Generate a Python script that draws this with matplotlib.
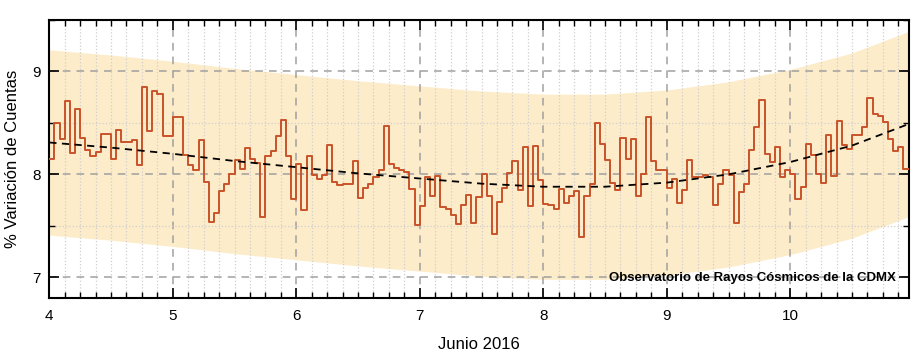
import numpy as np
import matplotlib.pyplot as plt
from matplotlib.ticker import MultipleLocator

plt.rcParams['font.family'] = ['Liberation Sans', 'DejaVu Sans']

# hourly counts variation (%), June 4 00h .. June 10 23h
variation = [
    8.15, 8.50, 8.34, 8.71, 8.21, 8.64, 8.35, 8.24, 8.18, 8.22, 8.39, 8.39,
    8.15, 8.43, 8.31, 8.31, 8.33, 8.09, 8.85, 8.42, 8.81, 8.78, 8.37, 8.37,
    8.56, 8.56, 8.19, 8.09, 8.04, 8.33, 7.93, 7.54, 7.62, 7.84, 7.91, 8.00,
    8.14, 8.05, 8.26, 8.15, 8.11, 7.59, 8.18, 8.23, 8.37, 8.53, 8.18, 7.76,
    8.10, 7.65, 8.18, 7.99, 7.96, 7.99, 8.29, 7.93, 7.90, 7.91, 7.91, 8.13,
    7.77, 7.87, 7.91, 7.97, 8.04, 8.47, 8.10, 8.06, 8.04, 8.02, 7.86, 7.51,
    7.69, 7.97, 7.79, 7.98, 7.68, 7.66, 7.61, 7.52, 7.70, 7.80, 7.53, 7.78,
    8.00, 7.79, 7.42, 7.73, 7.87, 8.01, 8.13, 7.85, 8.27, 7.69, 8.28, 7.95,
    7.71, 7.70, 7.66, 7.86, 7.72, 7.79, 7.84, 7.39, 7.79, 7.91, 8.50, 8.30,
    8.14, 7.92, 7.85, 8.35, 8.15, 8.34, 7.79, 8.00, 8.56, 8.13, 8.04, 8.04,
    7.87, 7.96, 7.72, 7.85, 8.14, 7.97, 7.97, 7.99, 7.97, 7.70, 7.91, 8.04,
    7.99, 7.53, 7.83, 7.91, 8.24, 8.46, 8.72, 8.20, 8.12, 8.27, 7.97, 8.04,
    8.00, 7.76, 7.88, 8.30, 8.19, 8.00, 7.92, 8.38, 7.98, 8.52, 8.29, 8.25,
    8.38, 8.38, 8.46, 8.74, 8.59, 8.57, 8.51, 8.34, 8.23, 8.27, 8.05, 8.05,
]
start_day = 4

# trend curve
trend_days = [4.0, 4.5, 5.0, 5.5, 6.0, 6.5, 7.0, 7.5, 8.0, 8.5, 9.0, 9.5, 10.0, 10.5, 10.96]
trend_vals = [8.31, 8.26, 8.20, 8.13, 8.07, 8.01, 7.96, 7.91, 7.88, 7.88, 7.92, 8.00, 8.12, 8.28, 8.49]
band_half = 0.9

t = start_day + np.arange(len(variation)) / 24.0
trend_days = np.array(trend_days)
trend_vals = np.array(trend_vals)

fig = plt.figure(figsize=(9.2, 3.58), dpi=100)
ax = fig.add_axes([0.0536, 0.168, 0.934, 0.776])

ax.fill_between(trend_days, trend_vals - band_half, trend_vals + band_half,
                color='#fdecc9', lw=0, zorder=0)
ax.step(t, variation, where='post', color='#c9522a', lw=1.4, zorder=3)
ax.plot(trend_days, trend_vals, ls=(0, (4, 3)), color='black', lw=1.3, zorder=4)

ax.set_xlim(t[0], t[-1])
ax.set_ylim(6.8, 9.5)
ax.xaxis.set_major_locator(MultipleLocator(1))
ax.xaxis.set_minor_locator(MultipleLocator(1 / 8))
ax.yaxis.set_major_locator(MultipleLocator(1))
ax.yaxis.set_minor_locator(MultipleLocator(0.5))

ax.grid(True, which='major', ls=(0, (5, 4)), color='#a0a0a0', lw=1.1)
ax.grid(True, which='minor', ls=':', color='#cfcfcf', lw=0.9)

ax.tick_params(which='both', direction='in', top=True, right=True, labelsize=11)
ax.tick_params(which='major', length=7, width=1.2)
ax.tick_params(which='minor', length=4, width=1)
ax.tick_params(axis='x', pad=8)
ax.tick_params(axis='y', pad=6)
for s in ax.spines.values():
    s.set_linewidth(1.5)

ax.set_xlabel('Junio 2016', fontsize=12, labelpad=10)
ax.set_ylabel('% Variación de Cuentas', fontsize=12, labelpad=9)
ax.text(0.985, 0.07, 'Observatorio de Rayos Cósmicos de la CDMX', transform=ax.transAxes,
        ha='right', va='center', fontsize=9.5, fontweight='bold', zorder=5)

fig.savefig('out.png', dpi=100)
